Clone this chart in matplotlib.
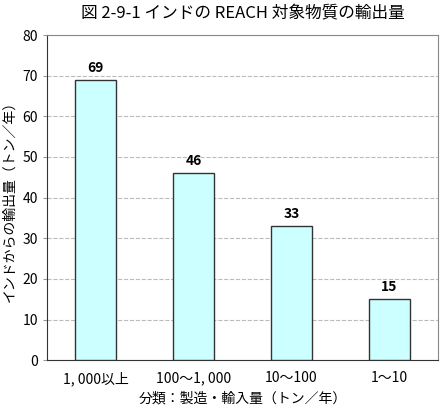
import matplotlib
matplotlib.use("Agg")
import matplotlib.pyplot as plt
import numpy as np

plt.rcParams['font.family'] = ['Noto Sans CJK JP', 'DejaVu Sans']

# data
categories = ['1, 000以上', '100～1, 000', '10～100', '1～10']
values = [69, 46, 33, 15]

fig = plt.figure(figsize=(4.43, 4.13), dpi=100)
ax = fig.add_axes([0.106, 0.128, 0.883, 0.787])

x = np.arange(len(categories))
ax.bar(x, values, width=0.42, color='#CCFFFF', edgecolor='#333333', linewidth=1, zorder=3)

for xi, v in zip(x, values):
    ax.text(xi, v + 1.3, str(v), ha='center', va='bottom', fontsize=10,
            fontweight='bold')

ax.set_xlim(-0.5, len(categories) - 0.5)
ax.set_ylim(0, 80)
ax.set_yticks(range(0, 81, 10))
ax.set_xticks(x)
ax.set_xticklabels(categories, fontsize=10)
ax.tick_params(axis='y', labelsize=10, length=3, color='#999999')
ax.tick_params(axis='x', length=0, pad=8)

ax.yaxis.grid(True, linestyle='--', color='#BBBBBB', linewidth=0.8, zorder=0)
ax.spines['left'].set_color('#333333')
ax.spines['bottom'].set_color('#333333')
ax.spines['top'].set_color('#888888')
ax.spines['right'].set_color('#888888')

ax.set_title('図 2-9-1 インドの REACH 対象物質の輸出量', fontsize=12, pad=13)
ax.set_ylabel('インドからの輸出量（トン／年）', fontsize=10, labelpad=4)
ax.set_xlabel('分類：製造・輸入量（トン／年）', fontsize=10, labelpad=4)

fig.savefig('out.png', dpi=100)
